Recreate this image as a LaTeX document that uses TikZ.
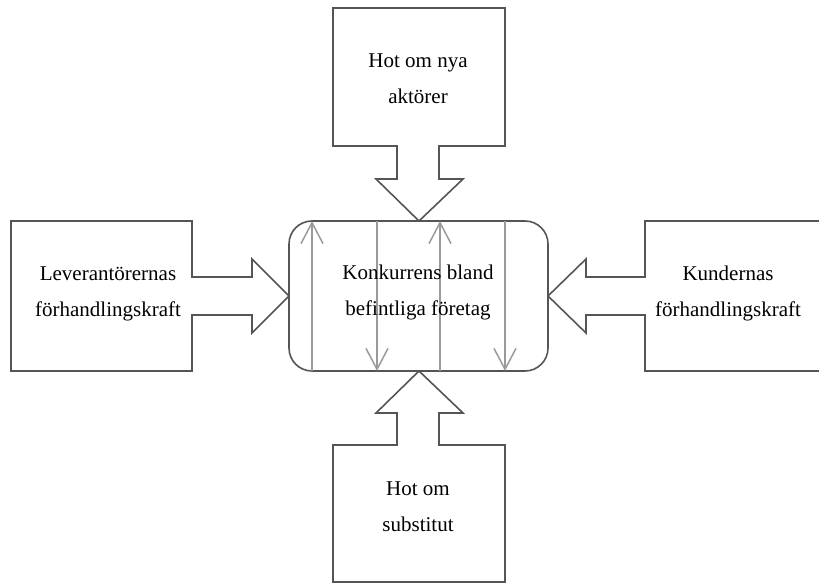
\documentclass[tikz,border=0pt]{standalone}
\usepackage{fontspec}
\setmainfont{Liberation Serif}
\usetikzlibrary{arrows.meta}
\definecolor{outl}{HTML}{555555}
\definecolor{flow}{HTML}{9A9A9A}
\begin{document}
\begin{tikzpicture}[x=1pt,y=-1pt,
  shapeline/.style={draw=outl,line width=1.6pt,line join=miter},
  flowline/.style={draw=flow,line width=1.5pt,-{Straight Barb[length=21pt,width=22pt,line width=1.5pt]}},
  lbl/.style={align=center,font=\fontsize{21}{36}\selectfont,inner sep=0pt}]
\useasboundingbox (0,0) rectangle (819,583);
% centre rounded box
\draw[shapeline,rounded corners=23pt] (289,221) rectangle (548,371);
\coordinate (u1b) at (312,371); \coordinate (u1t) at (312,221);
\coordinate (d1t) at (377,221); \coordinate (d1b) at (377,371);
\coordinate (u2b) at (440,371); \coordinate (u2t) at (440,221);
\coordinate (d2t) at (505,221); \coordinate (d2b) at (505,371);
\draw[flowline] (u1b) -- (u1t);
\draw[flowline] (d1t) -- (d1b);
\draw[flowline] (u2b) -- (u2t);
\draw[flowline] (d2t) -- (d2b);
\node[lbl] (mid) at (418,292.5) {Konkurrens bland\\befintliga företag};
% top box with arrow
\draw[shapeline] (333,8) -- (505,8) -- (505,146) -- (439,146) -- (439,179) -- (463,179)
  -- (419,221) -- (376,179) -- (397,179) -- (397,146) -- (333,146) -- cycle;
\node[lbl] (top) at (418,78.5) {Hot om nya\\aktörer};
% bottom box with arrow
\draw[shapeline] (333,583) -- (333,445) -- (397,445) -- (397,413) -- (376,413) -- (419,371)
  -- (463,413) -- (439,413) -- (439,445) -- (505,445) -- (505,583);
\draw[shapeline] (333,582) -- (505,582);
\node[lbl] (bot) at (418,506.5) {Hot om\\substitut};
% left box with arrow
\draw[shapeline] (11,221) -- (192,221) -- (192,277) -- (252,277) -- (252,259) -- (289,296)
  -- (252,333) -- (252,315) -- (192,315) -- (192,371) -- (11,371) -- cycle;
\node[lbl] (left) at (108,293.5) {Leverantörernas\\förhandlingskraft};
% right box with arrow
\draw[shapeline] (822,221) -- (645,221) -- (645,277) -- (586,277) -- (586,259) -- (548,296)
  -- (586,333) -- (586,315) -- (645,315) -- (645,371) -- (822,371);
\node[lbl] (right) at (728,293.5) {Kundernas\\förhandlingskraft};
\end{tikzpicture}
\end{document}
